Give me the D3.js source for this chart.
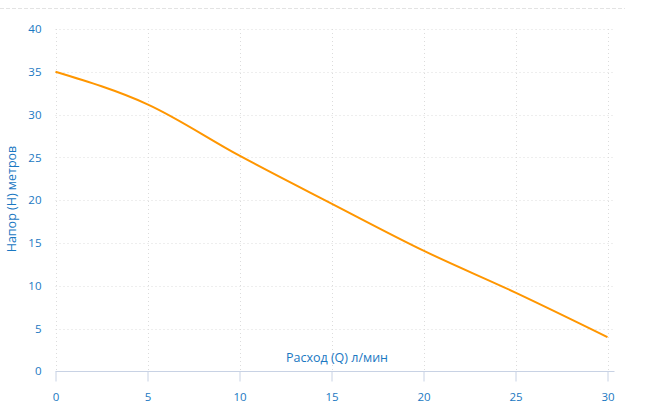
<!DOCTYPE html>
<html>
<head>
<meta charset="utf-8">
<style>
  body { margin: 0; background: #fff; }
  .tick text { font-family: "Open Sans", sans-serif; font-size: 11.5px; fill: #1a78c2; }
  .axis-label { font-family: "Open Sans", sans-serif; font-size: 12.5px; fill: #1a78c2; }
</style>
</head>
<body>
<div id="chart"></div>
<script src="https://d3js.org/d3.v7.min.js"></script>
<script>
  // flow (l/min) vs head (m)
  const flow = [0, 5, 10, 15, 20, 25, 30];
  const head = [35, 31.2, 25.2, 19.6, 14.1, 9.2, 4];
  const xTicks = [0, 5, 10, 15, 20, 25, 30];
  const yTicks = [0, 5, 10, 15, 20, 25, 30, 35, 40];

  const width = 647;
  const height = 416;
  const margin = { top: 29, right: 39, bottom: 45, left: 55.5 };

  const svg = d3.select('#chart')
    .append('svg')
    .attr('width', width)
    .attr('height', height);

  const x = d3.scaleLinear()
    .domain([0, 30])
    .range([margin.left, width - margin.right - 0.5]);

  const y = d3.scaleLinear()
    .domain([0, 40])
    .range([height - margin.bottom + 0.3, margin.top]);

  // top dashed border
  svg.append('line')
    .attr('x1', 0).attr('x2', 625)
    .attr('y1', 8.5).attr('y2', 8.5)
    .attr('stroke', '#e3e3e3')
    .attr('stroke-dasharray', '4,2');

  // grid
  svg.append('g')
    .selectAll('line')
    .data(yTicks.slice(1))
    .enter()
    .append('line')
    .attr('x1', x(0)).attr('x2', x(30) + 5)
    .attr('y1', d => Math.round(y(d)) + 0.5)
    .attr('y2', d => Math.round(y(d)) + 0.5)
    .attr('stroke', '#dcdcdc')
    .attr('stroke-dasharray', '1,3');

  svg.append('g')
    .selectAll('line')
    .data(xTicks)
    .enter()
    .append('line')
    .attr('x1', d => Math.round(x(d)) + 0.5)
    .attr('x2', d => Math.round(x(d)) + 0.5)
    .attr('y1', y(40)).attr('y2', y(0))
    .attr('stroke', '#dcdcdc')
    .attr('stroke-dasharray', '1,3');

  // x axis
  const xAxis = svg.append('g')
    .attr('transform', `translate(0, ${Math.round(y(0)) + 0.5})`)
    .call(d3.axisBottom(x).tickValues(xTicks).tickSize(10).tickSizeOuter(0).tickPadding(11));
  xAxis.select('.domain').remove();
  xAxis.append('line')
    .attr('x1', x(0)).attr('x2', x(30) + 7)
    .attr('stroke', '#c8d2e4');
  xAxis.selectAll('.tick line').attr('stroke', '#c8d2e4');

  // y axis
  const yAxis = svg.append('g')
    .attr('transform', `translate(${margin.left}, 0)`)
    .call(d3.axisLeft(y).tickValues(yTicks).tickSize(0).tickPadding(14));
  yAxis.select('.domain').remove();

  // curve
  svg.append('path')
    .datum(flow.map((f, i) => ({ f: f, h: head[i] })))
    .attr('fill', 'none')
    .attr('stroke', '#ff9600')
    .attr('stroke-width', 2)
    .attr('d', d3.line()
      .x(d => x(d.f))
      .y(d => y(d.h))
      .curve(d3.curveMonotoneX));

  // axis labels
  svg.append('text')
    .attr('class', 'axis-label')
    .attr('x', 337)
    .attr('y', 362)
    .attr('text-anchor', 'middle')
    .text('Расход (Q) л/мин');

  svg.append('text')
    .attr('class', 'axis-label')
    .attr('transform', 'rotate(-90)')
    .attr('x', -199)
    .attr('y', 16)
    .attr('text-anchor', 'middle')
    .text('Напор (Н) метров');
</script>
</body>
</html>
